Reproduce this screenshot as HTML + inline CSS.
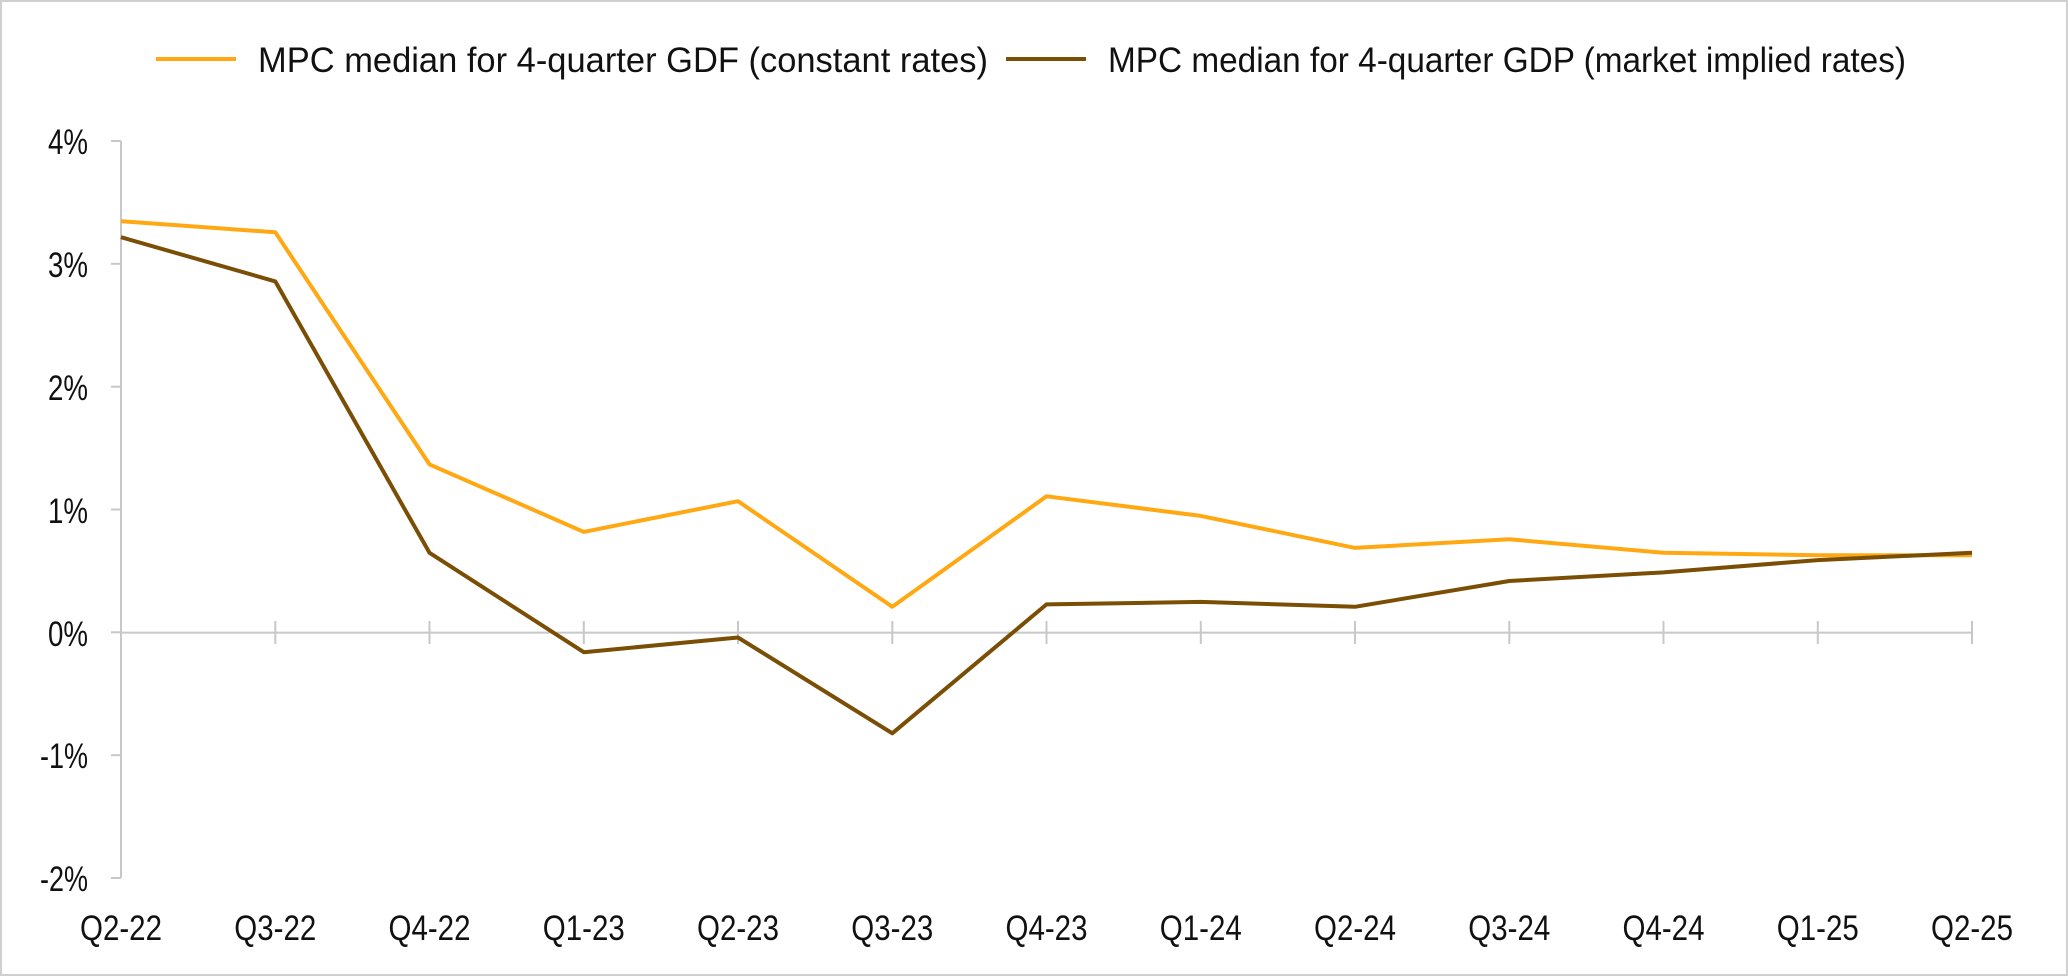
<!DOCTYPE html>
<html><head><meta charset="utf-8"><style>
html,body{margin:0;padding:0;background:#fff}
svg{display:block}
text{font-family:"Liberation Sans Narrow","Liberation Sans",sans-serif;fill:#111}
</style></head><body>
<svg width="2068" height="976" viewBox="0 0 2068 976" xmlns="http://www.w3.org/2000/svg">
<rect x="1" y="1" width="2066" height="974" fill="#fff" stroke="#d0d0d0" stroke-width="2"/>
<line x1="156" y1="59" x2="236" y2="59" stroke="#FFA812" stroke-width="4"/>
<text x="258" y="72" font-size="35" textLength="730" lengthAdjust="spacingAndGlyphs">MPC median for 4-quarter GDF  (constant rates)</text>
<line x1="1006" y1="59" x2="1086" y2="59" stroke="#7A4F05" stroke-width="4"/>
<text x="1108" y="72" font-size="35" textLength="798" lengthAdjust="spacingAndGlyphs">MPC median for 4-quarter GDP (market implied rates)</text>
<g stroke="#c8c8c8" stroke-width="2">
<line x1="121" y1="141" x2="121" y2="878"/>
<line x1="121" y1="632.6" x2="1972" y2="632.6"/>
<line x1="111" y1="141" x2="121" y2="141"/>
<line x1="111" y1="263.8" x2="121" y2="263.8"/>
<line x1="111" y1="386.7" x2="121" y2="386.7"/>
<line x1="111" y1="509.5" x2="121" y2="509.5"/>
<line x1="111" y1="632.3" x2="121" y2="632.3"/>
<line x1="111" y1="755.2" x2="121" y2="755.2"/>
<line x1="111" y1="878" x2="121" y2="878"/>
<line x1="275.3" y1="621" x2="275.3" y2="644"/><line x1="429.5" y1="621" x2="429.5" y2="644"/>
<line x1="583.8" y1="621" x2="583.8" y2="644"/><line x1="738" y1="621" x2="738" y2="644"/>
<line x1="892.3" y1="621" x2="892.3" y2="644"/><line x1="1046.5" y1="621" x2="1046.5" y2="644"/>
<line x1="1200.8" y1="621" x2="1200.8" y2="644"/><line x1="1355" y1="621" x2="1355" y2="644"/>
<line x1="1509.3" y1="621" x2="1509.3" y2="644"/><line x1="1663.5" y1="621" x2="1663.5" y2="644"/>
<line x1="1817.8" y1="621" x2="1817.8" y2="644"/><line x1="1972" y1="621" x2="1972" y2="644"/>
</g>
<g font-size="35" text-anchor="end">
<text x="88" y="154" textLength="40" lengthAdjust="spacingAndGlyphs">4%</text>
<text x="88" y="277" textLength="40" lengthAdjust="spacingAndGlyphs">3%</text>
<text x="88" y="400" textLength="40" lengthAdjust="spacingAndGlyphs">2%</text>
<text x="88" y="523" textLength="40" lengthAdjust="spacingAndGlyphs">1%</text>
<text x="88" y="646" textLength="40" lengthAdjust="spacingAndGlyphs">0%</text>
<text x="88" y="768" textLength="48" lengthAdjust="spacingAndGlyphs">-1%</text>
<text x="88" y="891" textLength="48" lengthAdjust="spacingAndGlyphs">-2%</text>
</g>
<g font-size="35" text-anchor="middle">
<text x="121" y="940" textLength="82" lengthAdjust="spacingAndGlyphs">Q2-22</text>
<text x="275.3" y="940" textLength="82" lengthAdjust="spacingAndGlyphs">Q3-22</text>
<text x="429.5" y="940" textLength="82" lengthAdjust="spacingAndGlyphs">Q4-22</text>
<text x="583.8" y="940" textLength="82" lengthAdjust="spacingAndGlyphs">Q1-23</text>
<text x="738" y="940" textLength="82" lengthAdjust="spacingAndGlyphs">Q2-23</text>
<text x="892.3" y="940" textLength="82" lengthAdjust="spacingAndGlyphs">Q3-23</text>
<text x="1046.5" y="940" textLength="82" lengthAdjust="spacingAndGlyphs">Q4-23</text>
<text x="1200.8" y="940" textLength="82" lengthAdjust="spacingAndGlyphs">Q1-24</text>
<text x="1355" y="940" textLength="82" lengthAdjust="spacingAndGlyphs">Q2-24</text>
<text x="1509.3" y="940" textLength="82" lengthAdjust="spacingAndGlyphs">Q3-24</text>
<text x="1663.5" y="940" textLength="82" lengthAdjust="spacingAndGlyphs">Q4-24</text>
<text x="1817.8" y="940" textLength="82" lengthAdjust="spacingAndGlyphs">Q1-25</text>
<text x="1972" y="940" textLength="82" lengthAdjust="spacingAndGlyphs">Q2-25</text>
</g>
<polyline fill="none" stroke="#FFA812" stroke-width="4" stroke-linejoin="round" points="121,221.2 275.3,232.3 429.5,464.4 583.8,531.9 738,501.2 892.3,606.8 1046.5,496.3 1200.8,515.9 1355,547.9 1509.3,539.3 1663.5,552.8 1817.8,555.2 1972,555.2"/>
<polyline fill="none" stroke="#7A4F05" stroke-width="4" stroke-linejoin="round" points="121,237.2 275.3,281.4 429.5,552.8 583.8,652.2 738,637.5 892.3,733.3 1046.5,604.4 1200.8,601.9 1355,606.8 1509.3,581.0 1663.5,572.4 1817.8,560.1 1972,552.8"/>
</svg>
</body></html>
